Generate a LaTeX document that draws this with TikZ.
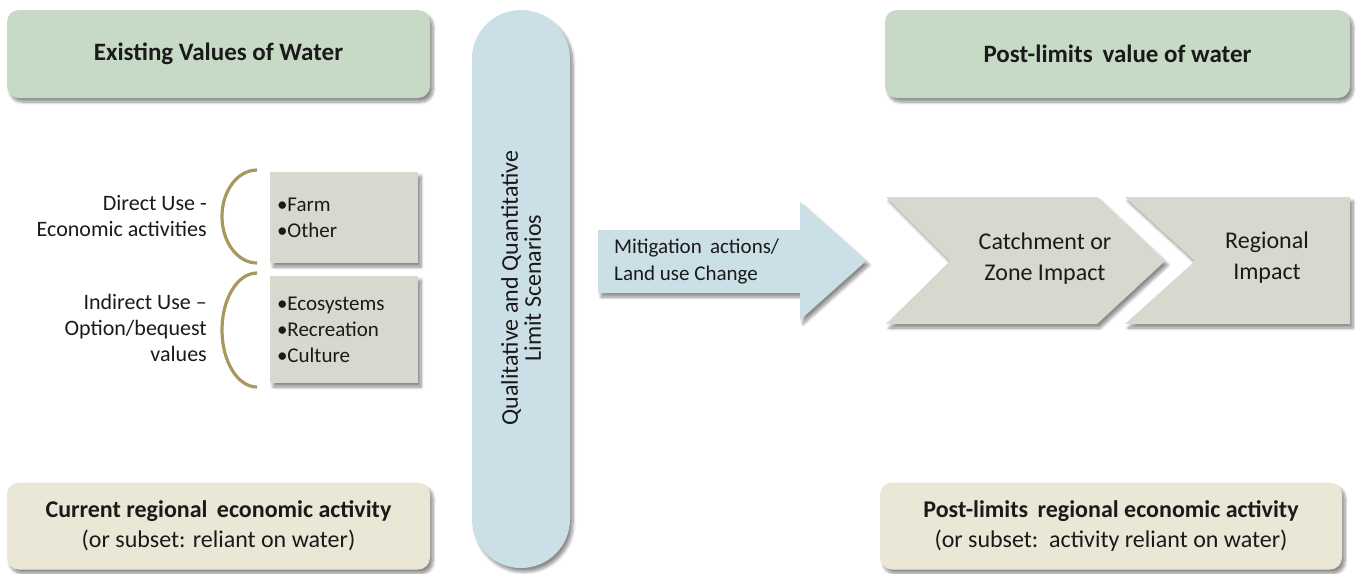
\documentclass[tikz,border=0pt]{standalone}
\usepackage{fontspec}
\setmainfont{Carlito}
\usetikzlibrary{shadows.blur}

\definecolor{headgreen}{HTML}{C6DAC5}
\definecolor{basebeige}{HTML}{EBE7D7}
\definecolor{scenblue}{HTML}{CBDFE6}
\definecolor{itemgray}{HTML}{D8D8CF}
\definecolor{bracegold}{HTML}{A8985E}
\definecolor{inktext}{HTML}{1A1A1A}

\tikzset{
  softshadow/.style={blur shadow={shadow xshift=3pt, shadow yshift=-4pt,
      shadow blur steps=8, shadow blur radius=3pt, shadow opacity=45}},
  panel/.style={rounded corners=12pt, softshadow, inner sep=0pt,
      align=center, text=inktext},
  headbox/.style={panel, fill=headgreen, minimum width=423pt, minimum height=88pt,
      font=\fontsize{25}{30}\selectfont\bfseries},
  basebox/.style={panel, fill=basebeige, minimum height=87pt,
      font=\fontsize{24}{30}\selectfont},
  itembox/.style={fill=itemgray, softshadow, inner sep=0pt, minimum width=148pt,
      text width=134pt, text=inktext, font=\fontsize{21}{26}\selectfont, align=left},
  sidelabel/.style={text=inktext, font=\fontsize{22}{26}\selectfont, align=right,
      anchor=east, inner sep=0pt},
  bodytext/.style={text=inktext, font=\fontsize{24}{31}\selectfont, align=center, inner sep=0pt},
  brace/.style={draw=bracegold, line width=3.2pt},
  shapefill/.style={fill=itemgray, softshadow},
}

\begin{document}
\begin{tikzpicture}[x=1pt, y=-1pt]
\useasboundingbox (0,0) rectangle (1359,573);

% headings
\node[headbox] (existing) at (218.5,54) {Existing Values of Water};
\node[headbox, minimum width=465pt] (postvalue) at (1117.5,54) {Post-limits\ \,value of water};

% regional activity boxes
\node[basebox, minimum width=423pt] (current) at (218.5,526)
  {\textbf{Current regional\ \,economic activity}\\(or subset: reliant on water)};
\node[basebox, minimum width=462pt] (postact) at (1111,526)
  {\textbf{Post-limits\ \,regional economic activity}\\(or subset:\ \ activity reliant on water)};

% scenario pill
\node[fill=scenblue, softshadow, rounded corners=48.9pt, minimum width=98pt,
      minimum height=558pt, inner sep=0pt] (scenario) at (521,289) {};
\node[bodytext, rotate=90, font=\fontsize{24}{23}\selectfont] (scentext) at (521,288)
  {Qualitative and Quantitative\\Limit Scenarios};

% value categories
\node[itembox, minimum height=91pt] (direct) at (344,217.5)
  {\textbullet Farm\\\textbullet Other};
\node[itembox, minimum height=107pt] (indirect) at (344,329.5)
  {\textbullet Ecosystems\\\textbullet Recreation\\\textbullet Culture};

\node[sidelabel] (directlbl) at (207,216) {Direct Use -\\Economic activities};
\node[sidelabel] (indirectlbl) at (207,328) {Indirect Use --\\Option/bequest\\values};

% brackets grouping each category
\draw[brace] (257,170) arc[start angle=90, end angle=270, x radius=35pt, y radius=46.5pt];
\draw[brace] (257,273) arc[start angle=90, end angle=270, x radius=35pt, y radius=57pt];

% mitigation arrow
\fill[scenblue, softshadow] (598,230) -- (800,230) -- (800,202) -- (866,261)
  -- (800,320) -- (800,293) -- (598,293) -- cycle;
\node[bodytext, anchor=west, align=left, font=\fontsize{21}{27}\selectfont] (mitigation) at (614,262)
  {Mitigation\ \,actions/\\Land use Change};

% impact chevrons
\fill[shapefill] (886,197) -- (1097,197) -- (1165,261) -- (1097,324)
  -- (886,324) -- (950,261) -- cycle;
\fill[shapefill] (1125,197) -- (1350,197) -- (1350,324) -- (1125,324)
  -- (1195,261) -- cycle;
\node[bodytext] (catchment) at (1045,259) {Catchment or\\Zone Impact};
\node[bodytext] (regional) at (1267,258) {Regional\\Impact};

\end{tikzpicture}
\end{document}
